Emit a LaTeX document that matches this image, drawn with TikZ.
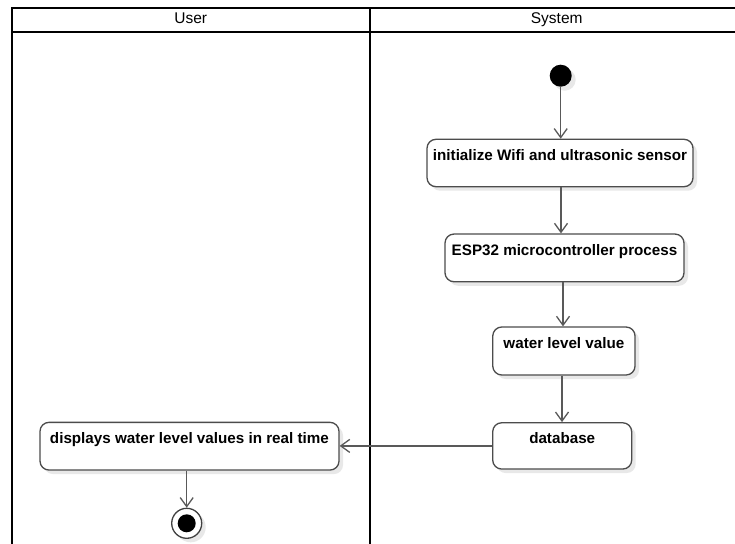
\documentclass[tikz,border=0pt]{standalone}
\usepackage{fontspec}
\setmainfont{Liberation Sans}
\usetikzlibrary{arrows.meta,shadows}
\begin{document}
\begin{tikzpicture}[x=1pt,y=-1pt,
  lane/.style={line width=2pt, draw=black},
  shad/.style={drop shadow={shadow xshift=4pt, shadow yshift=-4pt, fill=black!9, opacity=1}},
  act/.style={draw=black!70, line width=1.3pt, rounded corners=9pt, fill=white, inner sep=0pt, shad},
  flow/.style={draw=black!65, line width=1.3pt, -{Straight Barb[length=9pt,width=13pt,line width=1.3pt]}},
  atext/.style={font=\fontsize{15.2}{18}\bfseries, inner sep=0pt, anchor=base},
  htext/.style={font=\fontsize{15.5}{18}\selectfont, inner sep=0pt, anchor=base},
]
\useasboundingbox[fill=white] (0,0) rectangle (735,543);

% swimlane frame
\draw[lane, line join=miter] (736,8) -- (12,8) -- (12,544);
\draw[lane] (12,32) -- (736,32);
\draw[lane] (370,8) -- (370,544);
\node[htext] (hu) at (190.7,24) {User};
\node[htext] (hs) at (556.7,24) {System};

% initial node
\node[circle, fill=black, minimum size=22pt, inner sep=0pt, shad] (init) at (560.7,75.7) {};

% activities
\node[act, minimum width=266pt, minimum height=47.4pt] (b1) at (560,163) {};
\node[atext] (t1) at (560,160.3) {initialize Wifi and ultrasonic sensor};

\node[act, minimum width=239pt, minimum height=47.7pt] (b2) at (564.5,257.9) {};
\node[atext] (t2) at (564.5,255.2) {ESP32 microcontroller process};

\node[act, minimum width=142.3pt, minimum height=48pt] (b3) at (563.9,351) {};
\node[atext] (t3) at (563.9,348.6) {water level value};

\node[act, minimum width=139pt, minimum height=46.3pt] (b4) at (562.2,445.9) {};
\node[atext] (t4) at (562.2,443.7) {database};

\node[act, minimum width=299pt, minimum height=47.7pt] (b5) at (189.5,446.2) {};
\node[atext] (t5) at (189.4,443.3) {displays water level values in real time};

% final node
\node[circle, draw=black!75, line width=1.3pt, fill=white, minimum size=30pt, inner sep=0pt, shad] (fin) at (186.7,523.3) {};
\node[circle, fill=black, minimum size=18pt, inner sep=0pt] (finin) at (fin) {};

% connectors
\coordinate (ax1) at (561,0);
\coordinate (ax2) at (563,0);
\coordinate (ax3) at (562,0);
\draw[flow] (init.south) -- (b1.north -| init.south);
\draw[flow] (b1.south -| ax1) -- (b2.north -| ax1);
\draw[flow] (b2.south -| ax2) -- (b3.north -| ax2);
\draw[flow] (b3.south -| ax3) -- (b4.north -| ax3);
\draw[flow] (b4.west) -- (b5.east |- b4.west);
\draw[flow] (b5.south -| fin) -- (fin.north);
\end{tikzpicture}
\end{document}
